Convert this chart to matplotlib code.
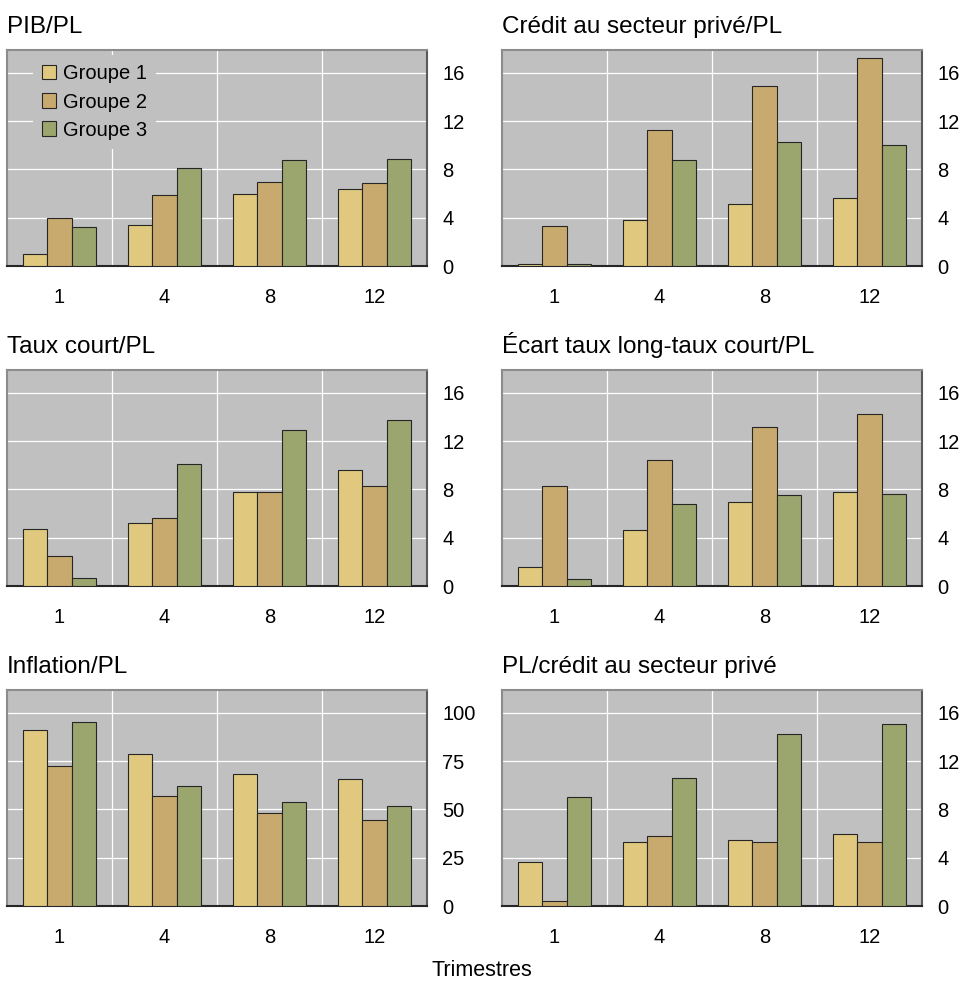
import matplotlib
matplotlib.use("Agg")
import matplotlib.pyplot as plt
import numpy as np

plt.rcParams['font.family'] = ['Liberation Sans', 'DejaVu Sans']

trimestres = ["1", "4", "8", "12"]
groupes = ["Groupe 1", "Groupe 2", "Groupe 3"]
couleurs = ["#e0c97f", "#c9aa6e", "#9ba56e"]

titres = ["PIB/PL", "Crédit au secteur privé/PL",
          "Taux court/PL", "Écart taux long-taux court/PL",
          "Inflation/PL", "PL/crédit au secteur privé"]

pib_pl = [[1.0, 3.4, 6.0, 6.35], [4.0, 5.85, 7.0, 6.85], [3.25, 8.15, 8.75, 8.9]]
credit_pl = [[0.2, 3.8, 5.1, 5.6], [3.35, 11.25, 14.9, 17.2], [0.15, 8.75, 10.25, 10.05]]
taux_court_pl = [[4.7, 5.2, 7.8, 9.6], [2.5, 5.65, 7.8, 8.3], [0.7, 10.1, 12.9, 13.75]]
ecart_pl = [[1.55, 4.65, 7.0, 7.8], [8.3, 10.45, 13.2, 14.25], [0.55, 6.8, 7.5, 7.65]]
inflation_pl = [[91.0, 78.7, 68.3, 65.6], [72.5, 57.1, 48.0, 44.7], [95.1, 62.1, 53.8, 51.9]]
pl_credit = [[3.65, 5.3, 5.5, 6.0], [0.4, 5.8, 5.3, 5.3], [9.0, 10.6, 14.25, 15.1]]

series = [pib_pl, credit_pl, taux_court_pl, ecart_pl, inflation_pl, pl_credit]
ticks_y = [[0, 4, 8, 12, 16]] * 4 + [[0, 25, 50, 75, 100], [0, 4, 8, 12, 16]]
ymax = [17.9] * 4 + [111.9, 17.9]

W, H = 964, 981
fig = plt.figure(figsize=(W / 100, H / 100), dpi=100)

gauches = [7, 502]
hauts = [50, 370, 690]
larg, haut = 420, 216

x = np.arange(len(trimestres))
lb = 0.23

for i in range(6):
    ligne, col = divmod(i, 2)
    l = gauches[col] / W
    b = 1 - (hauts[ligne] + haut) / H
    ax = fig.add_axes([l, b, larg / W, haut / H])
    ax.set_facecolor("#c0c0c0")
    for g in range(3):
        ax.bar(x + (g - 1) * lb, series[i][g], lb, color=couleurs[g],
               edgecolor="#262626", linewidth=0.8, label=groupes[g], zorder=3)
    ax.set_xlim(-0.5, 3.5)
    ax.set_ylim(0, ymax[i])
    ax.set_xticks(x)
    ax.set_xticklabels(trimestres)
    ax.set_xticks([0.5, 1.5, 2.5], minor=True)
    ax.set_yticks(ticks_y[i])
    ax.yaxis.tick_right()
    ax.tick_params(axis='both', which='both', length=0, labelsize=14.5)
    ax.tick_params(axis='y', pad=11)
    ax.tick_params(axis='x', pad=16)
    ax.grid(axis='y', which='major', color='white', linewidth=0.9, zorder=1)
    ax.grid(axis='x', which='minor', color='white', linewidth=0.9, zorder=1)
    ax.set_axisbelow(True)
    for s in ['top', 'left']:
        ax.spines[s].set_color('#8c8c8c')
        ax.spines[s].set_linewidth(1.5)
    ax.spines['right'].set_color('#5a5a5a')
    ax.spines['right'].set_linewidth(1.5)
    ax.spines['bottom'].set_color('#262626')
    ax.spines['bottom'].set_linewidth(1.5)
    ax.set_title(titres[i], loc='left', fontsize=17.5, pad=12)
    if i == 0:
        leg = ax.legend(loc='upper left', bbox_to_anchor=(0.062, 0.975),
                        borderaxespad=0, fontsize=14.5, handlelength=0.7,
                        handleheight=0.7, handletextpad=0.35, labelspacing=0.45,
                        borderpad=0.45, fancybox=False, framealpha=1)
        leg.get_frame().set_facecolor("#c0c0c0")
        leg.get_frame().set_edgecolor("none")
        leg.set_zorder(5)

fig.text(0.5, 1 - 976 / H, "Trimestres", ha='center', va='baseline', fontsize=15.5)

fig.savefig("out.png", dpi=100)
